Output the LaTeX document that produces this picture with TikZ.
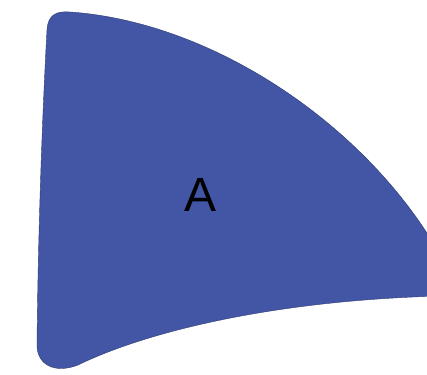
\documentclass[tikz,border=0pt]{standalone}
\usepackage{fontspec}
\setmainfont{Liberation Sans}
\definecolor{shapeblue}{RGB}{67,85,165}
\begin{document}
\begin{tikzpicture}[x=1pt,y=-1pt]
\useasboundingbox (0,0) rectangle (427,374);
\clip (0,0) rectangle (427,374);
\fill[shapeblue, draw=shapeblue!70!black, line width=0.4pt]
  (47,30) .. controls (48,14) and (57,11) .. (70,12)
  .. controls (215,22) and (370,128) .. (442,258)
  -- (442,296)
  .. controls (280,300) and (150,330) .. (78,365)
  .. controls (55,374) and (37,365) .. (37,345)
  .. controls (38,240) and (42,120) .. (47,30) -- cycle;
\node (a) at (201,195) {\fontsize{48}{52}\selectfont A};
\end{tikzpicture}
\end{document}
